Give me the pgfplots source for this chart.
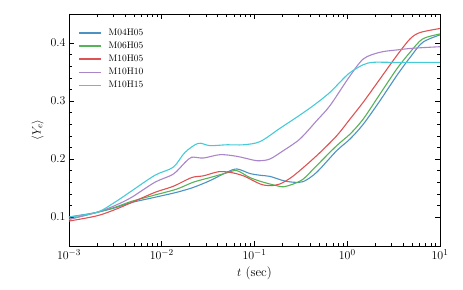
\documentclass[border=0pt]{standalone}
\usepackage{pgfplots}
\pgfplotsset{compat=1.18}
\definecolor{cB}{RGB}{76,146,195}
\definecolor{cG}{RGB}{86,179,86}
\definecolor{cR}{RGB}{222,82,83}
\definecolor{cP}{RGB}{169,133,202}
\definecolor{cC}{RGB}{69,203,216}
\begin{document}
\begin{tikzpicture}
\useasboundingbox (-69bp,-44bp) rectangle (394bp,246bp);
\begin{axis}[
  at={(0,0)}, anchor=south west,
  scale only axis, width=371bp, height=232bp,
  xmode=log, xmin=1e-3, xmax=10,
  ymin=0.05, ymax=0.45,
  ytick={0.1,0.2,0.3,0.4},
  minor y tick num=4,
  yticklabel style={/pgf/number format/fixed,/pgf/number format/precision=1},
  tick align=inside,
  major tick length=5bp, minor tick length=3bp,
  tick style={black, line width=0.6pt},
  axis line style={line width=0.8pt},
  tick label style={font=\fontsize{13}{15}\selectfont},
  label style={font=\fontsize{13}{15}\selectfont},
  xlabel={$t$ (sec)},
  ylabel={$\langle Y_e\rangle$},
  legend style={draw=none, fill=none, at={(0.016,0.95)}, anchor=north west,
    font=\fontsize{9.5}{10}\selectfont, row sep=3.2bp, column sep=4bp,
    nodes={inner xsep=3bp, inner ysep=1bp}},
  legend cell align=left,
  legend image code/.code={\draw[#1] (0bp,0bp) -- (22bp,0bp);},
  legend image post style={line width=1.5pt},
  every axis plot/.append style={line width=1.1pt},
]
\addlegendimage{cB}
\addlegendentry{M04H05}
\addlegendimage{cG}
\addlegendentry{M06H05}
\addlegendimage{cR}
\addlegendentry{M10H05}
\addlegendimage{cP}
\addlegendentry{M10H10}
\addlegendimage{cC}
\addlegendentry{M10H15}
\addplot[cB, smooth, forget plot] table {
0.001 0.100
0.002 0.108
0.00316 0.116
0.00474 0.125
0.00845 0.134
0.01445 0.1425
0.02188 0.151
0.03311 0.1627
0.05012 0.177
0.06457 0.1828
0.08913 0.175
0.1148 0.172
0.1469 0.170
0.2042 0.1627
0.263 0.160
0.3357 0.161
0.4677 0.177
0.7691 0.2143
1.072 0.2345
1.489 0.260
2.254 0.3005
3.412 0.3436
4.753 0.375
6.5 0.401
10 0.414
};
\addplot[cG, smooth, forget plot] table {
0.001 0.096
0.002 0.108
0.00316 0.117
0.00474 0.127
0.00845 0.138
0.01445 0.148
0.02188 0.160
0.03311 0.168
0.05012 0.176
0.06457 0.180
0.08913 0.168
0.1245 0.160
0.1738 0.154
0.2042 0.152
0.263 0.157
0.3357 0.1655
0.4677 0.1885
0.7691 0.223
1.072 0.243
1.489 0.269
2.254 0.312
3.412 0.355
4.753 0.384
6.5 0.407
10 0.4155
};
\addplot[cR, smooth, forget plot] table {
0.001 0.093
0.002 0.102
0.00316 0.113
0.00474 0.125
0.00845 0.1425
0.01334 0.153
0.02104 0.168
0.02818 0.171
0.04074 0.178
0.05445 0.177
0.07586 0.171
0.1148 0.157
0.1469 0.154
0.1884 0.157
0.263 0.171
0.4677 0.2057
0.7691 0.240
1.072 0.269
1.489 0.298
2.254 0.338
3.412 0.378
4.753 0.407
6.081 0.418
10 0.425
};
\addplot[cP, smooth, forget plot] table {
0.001 0.096
0.002 0.108
0.00316 0.120
0.00474 0.134
0.00845 0.160
0.01334 0.174
0.01782 0.194
0.02104 0.203
0.02818 0.2017
0.04266 0.2075
0.06457 0.2046
0.09772 0.198
0.1148 0.197
0.1469 0.200
0.2042 0.2143
0.309 0.2345
0.4677 0.266
0.6516 0.292
1.026 0.339
1.489 0.3724
2.254 0.384
3.412 0.388
5.164 0.391
10 0.3936
};
\addplot[cC, smooth, forget plot] table {
0.001 0.100
0.002 0.108
0.00316 0.126
0.00474 0.145
0.00845 0.172
0.01334 0.186
0.01782 0.2115
0.02477 0.227
0.03311 0.223
0.05012 0.2245
0.07586 0.2245
0.1148 0.230
0.1884 0.253
0.2851 0.272
0.4305 0.292
0.6516 0.315
1.026 0.3466
1.489 0.3626
1.91 0.3667
3.0 0.3667
10 0.3667
};
\end{axis}
\end{tikzpicture}
\end{document}
